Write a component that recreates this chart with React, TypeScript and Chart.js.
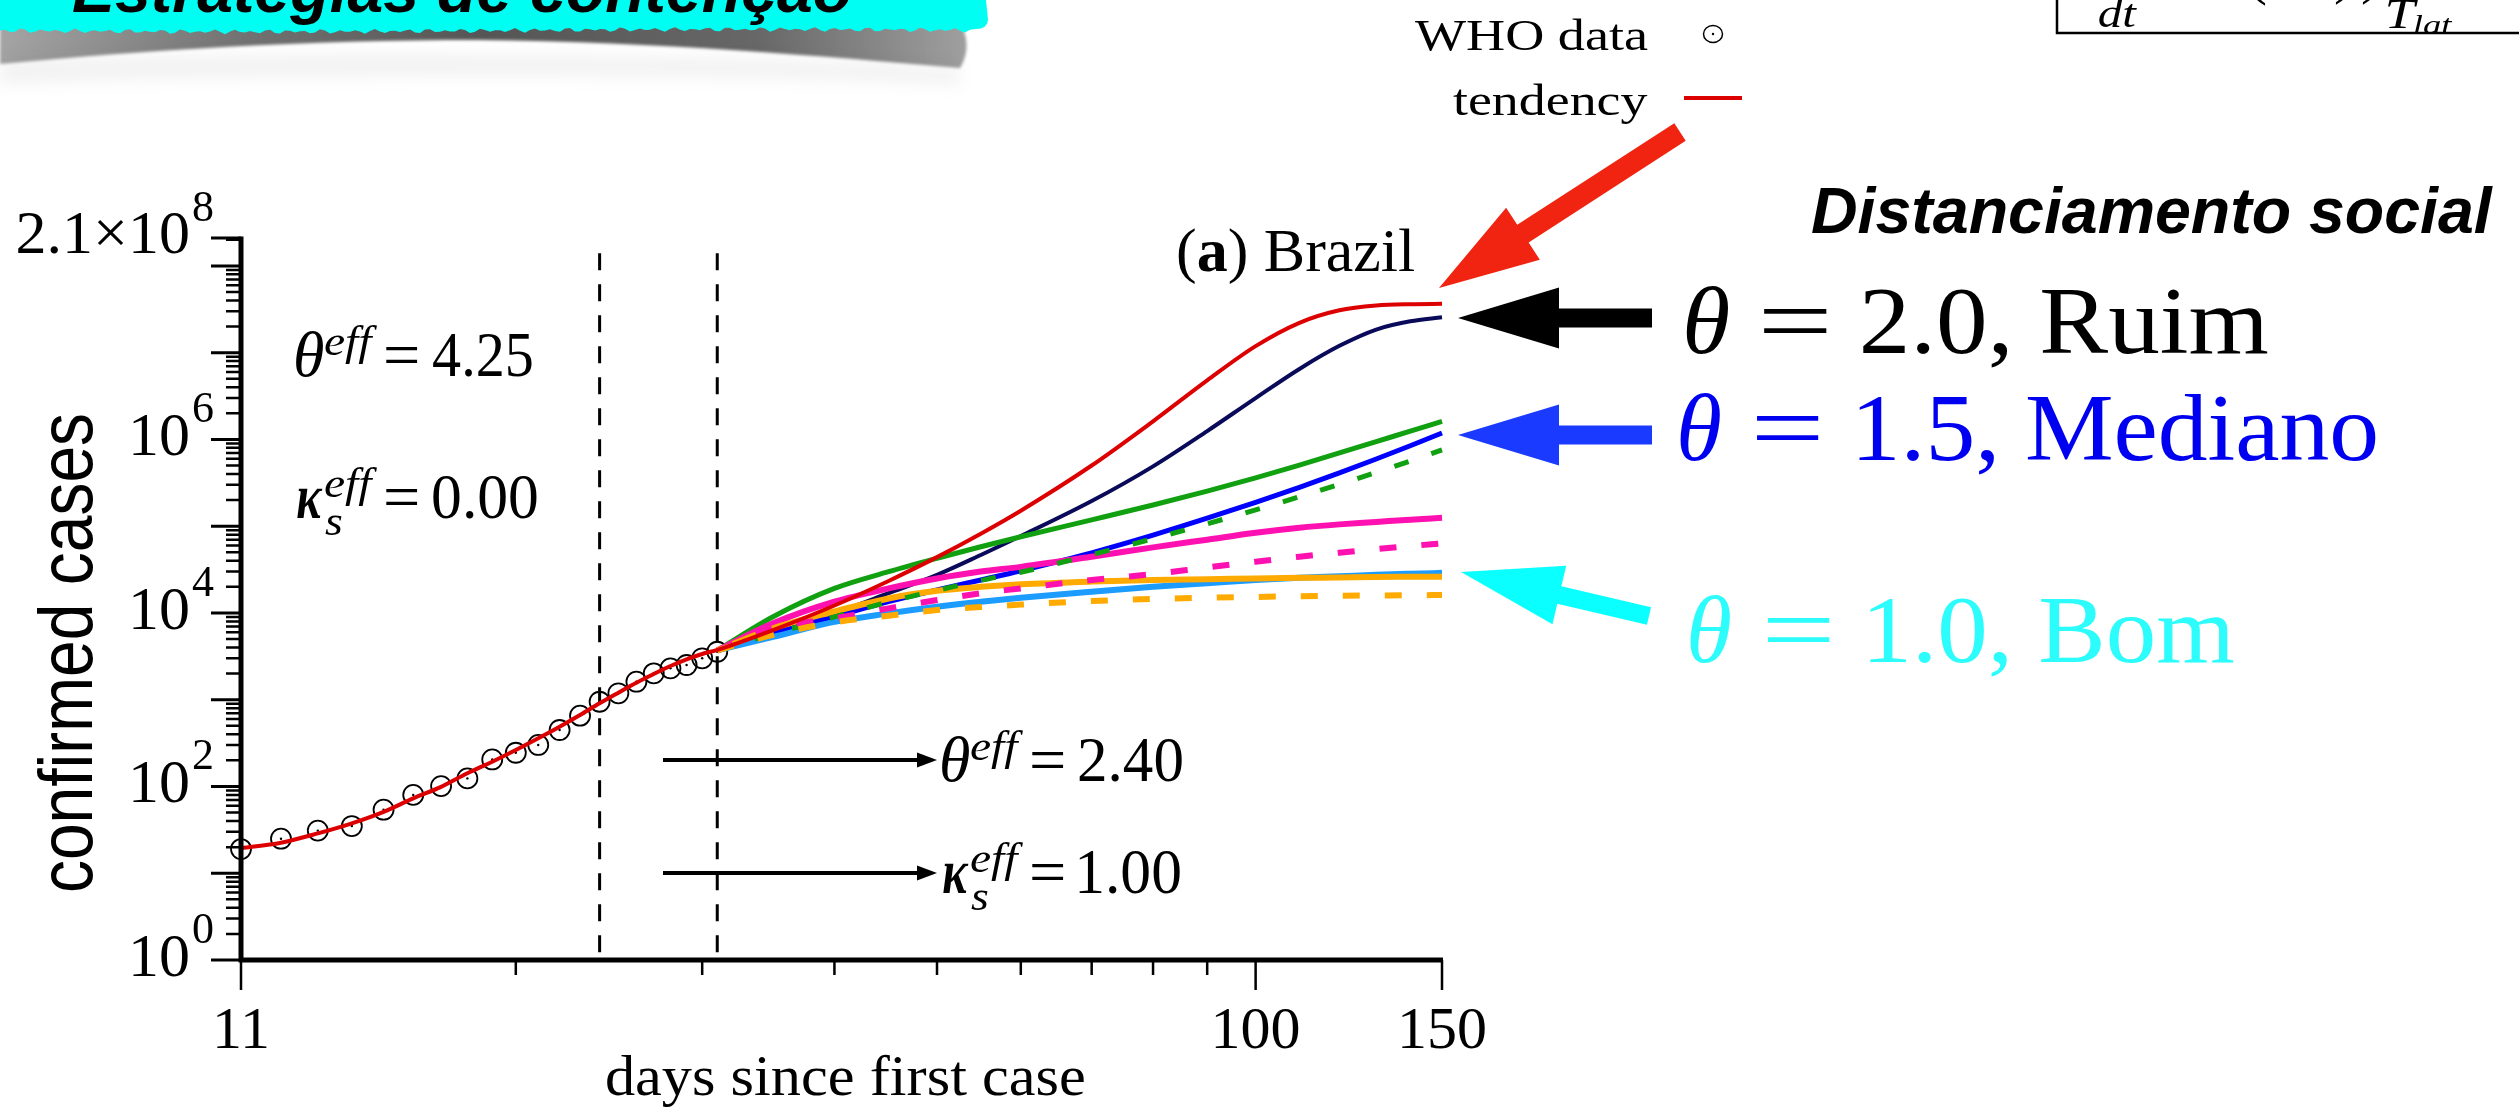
import React, { useEffect, useRef } from "react";
import { Chart, registerables } from "chart.js";

Chart.register(...registerables);

const W = 2519;
const H = 1109;
const SERIF = '"Liberation Serif", "Times New Roman", serif';
const SANS = '"Liberation Sans", Arial, sans-serif';

// ---------- data ----------
const whoDays = [11, 12, 13, 14, 15, 16, 17, 18, 19, 20, 21, 22, 23, 24, 25, 26, 27, 28, 29, 30, 31];
const whoCases = [19, 25, 31, 35, 54, 80, 101, 124, 205, 245, 301, 448, 655, 948, 1186, 1614, 2016, 2301, 2513, 3003, 3573];

const tendencyDays = [11, 12, 13, 14, 15, 16, 17, 18, 19, 20, 21, 22, 23, 24, 25, 26, 27, 28, 29, 30, 31, 35, 40, 45, 50, 55, 60, 70, 80, 90, 100, 110, 120, 130, 140, 150];
const tendencyCases = [19.4, 22.5, 28.8, 37.6, 51, 73, 99, 142, 193, 263, 359, 489, 666, 909, 1205, 1571, 1979, 2446, 2923, 3365, 3750, 6350, 12200, 23400, 44000, 82000, 151000, 501000, 1620000, 4800000, 11900000, 22100000, 30800000, 35000000, 36300000, 36600000];

const scenarioDays = [31, 35, 40, 45, 50, 55, 60, 70, 80, 90, 100, 110, 120, 130, 140, 150];
const navyCases = [3700, 5800, 9900, 16900, 27500, 46600, 77000, 195000, 490000, 1250000, 3000000, 6500000, 12000000, 18500000, 23000000, 25600000];
const greenCases = [3700, 9060, 19200, 29900, 42700, 58000, 75700, 118300, 175400, 254100, 361400, 507000, 699800, 944100, 1247000, 1614000];
const blueCases = [3700, 5800, 9060, 13500, 18400, 24000, 30700, 49400, 78900, 123600, 188400, 281200, 412100, 595700, 847200, 1189000];
const greenDashCases = [3700, 5750, 9000, 13400, 18200, 23700, 29500, 46900, 71800, 106600, 154200, 218300, 304100, 416900, 564900, 758600];
const magentaCases = [3700, 7600, 13500, 19200, 25000, 30000, 34000, 44500, 57000, 70000, 84000, 96000, 105000, 112000, 119000, 125000];
const magentaDashCases = [3700, 6650, 8650, 11300, 14100, 16900, 19200, 24000, 28100, 33500, 39000, 44500, 49500, 54500, 59000, 63500];
const lightBlueCases = [3700, 5300, 7900, 9900, 11800, 13500, 15000, 17600, 20000, 22000, 24000, 25500, 26500, 27500, 28300, 29000];
const orangeCases = [3700, 6650, 10400, 14700, 18000, 20000, 21400, 23000, 24000, 24500, 25000, 25400, 25700, 26000, 26100, 26200];
const orangeDashCases = [3700, 5600, 7800, 9300, 10800, 11700, 12500, 13700, 14500, 15000, 15300, 15600, 15800, 15900, 16000, 16100];

// ---------- axes ----------
const xMin = 11;
const xMax = 150;
const yMin = 1;
const yMax = 2.1e8;
const xMajorTicks = [11, 100, 150];
const xTickLabels = ["11", "100", "150"];
const xMinorTicks = [20, 30, 40, 50, 60, 70, 80, 90];
const yDecadeTicks = [1, 10, 100, 1e3, 1e4, 1e5, 1e6, 1e7, 1e8];
const yLabelExponents = [0, 2, 4, 6];
const phaseDays = [24, 31];
const phaseTop = 1.4e8;

// ---------- text helpers ----------
function inkText(ctx: any, s: string, font: string, color: string, left: number, right: number, baseline: number, sy?: number) {
  ctx.save();
  ctx.font = font;
  ctx.fillStyle = color;
  ctx.textAlign = "left";
  ctx.textBaseline = "alphabetic";
  const m = ctx.measureText(s);
  const inkW = m.actualBoundingBoxRight + m.actualBoundingBoxLeft;
  const sx = (right - left) / inkW;
  ctx.translate(left, baseline);
  ctx.scale(sx, sy || 1);
  ctx.fillText(s, m.actualBoundingBoxLeft, 0);
  ctx.restore();
}

function plainText(ctx: any, s: string, font: string, color: string, x: number, y: number, align: string) {
  ctx.save();
  ctx.font = font;
  ctx.fillStyle = color;
  ctx.textAlign = align;
  ctx.textBaseline = "alphabetic";
  ctx.fillText(s, x, y);
  ctx.restore();
}

function blockArrow(ctx: any, tx: number, ty: number, hx: number, hy: number, shaftW: number, headL: number, headW: number, color: string) {
  const dx = hx - tx;
  const dy = hy - ty;
  const L = Math.hypot(dx, dy);
  const ux = dx / L;
  const uy = dy / L;
  const px = -uy;
  const py = ux;
  const bx = hx - ux * headL;
  const by = hy - uy * headL;
  ctx.save();
  ctx.fillStyle = color;
  ctx.beginPath();
  ctx.moveTo(tx + (px * shaftW) / 2, ty + (py * shaftW) / 2);
  ctx.lineTo(bx + (px * shaftW) / 2, by + (py * shaftW) / 2);
  ctx.lineTo(bx + (px * headW) / 2, by + (py * headW) / 2);
  ctx.lineTo(hx, hy);
  ctx.lineTo(bx - (px * headW) / 2, by - (py * headW) / 2);
  ctx.lineTo(bx - (px * shaftW) / 2, by - (py * shaftW) / 2);
  ctx.lineTo(tx - (px * shaftW) / 2, ty - (py * shaftW) / 2);
  ctx.closePath();
  ctx.fill();
  ctx.restore();
}

function thinArrow(ctx: any, x0: number, x1: number, y: number) {
  ctx.save();
  ctx.strokeStyle = "#000";
  ctx.fillStyle = "#000";
  ctx.lineWidth = 4;
  ctx.beginPath();
  ctx.moveTo(x0, y);
  ctx.lineTo(x1 - 16, y);
  ctx.stroke();
  ctx.beginPath();
  ctx.moveTo(x1, y);
  ctx.lineTo(x1 - 20, y - 7.5);
  ctx.lineTo(x1 - 20, y + 7.5);
  ctx.closePath();
  ctx.fill();
  ctx.restore();
}

function effLabel(ctx: any, kind: string, x0: number, b: number, value: string, valueW: number) {
  const big = `64px ${SERIF}`;
  const small = `italic 43px ${SERIF}`;
  if (kind === "theta") {
    inkText(ctx, "θ", `italic ${big}`, "#000", x0, x0 + 27, b);
  } else {
    inkText(ctx, "κ", `bold italic ${big}`, "#000", x0 + 1, x0 + 27, b);
    inkText(ctx, "s", small, "#000", x0 + 29, x0 + 46, b + 17);
  }
  inkText(ctx, "eff", small, "#000", x0 + 29, x0 + 81, b - 21);
  inkText(ctx, "=", big, "#000", x0 + 90, x0 + 121, b);
  inkText(ctx, value, big, "#000", x0 + 137, x0 + 137 + valueW, b);
}

function thetaLine(ctx: any, color: string, th: number[], eq: number[], rest: number[], b: number, s: string) {
  const f = `96px ${SERIF}`;
  inkText(ctx, "θ", `italic ${f}`, color, th[0], th[1], b);
  inkText(ctx, "=", f, color, eq[0], eq[1], b);
  inkText(ctx, s, f, color, rest[0], rest[1], b);
}

function drawBanner(ctx: any) {
  ctx.save();
  const g = ctx.createLinearGradient(0, 0, 970, 0);
  g.addColorStop(0, "#a4a4a4");
  g.addColorStop(0.25, "#727272");
  g.addColorStop(0.5, "#555555");
  g.addColorStop(0.78, "#676767");
  g.addColorStop(1, "#a0a0a0");
  ctx.filter = "blur(1.5px)";
  ctx.fillStyle = g;
  ctx.beginPath();
  ctx.moveTo(0, 26);
  ctx.lineTo(962, 26);
  ctx.quadraticCurveTo(972, 48, 960, 68);
  ctx.bezierCurveTo(820, 56, 660, 42, 480, 40);
  ctx.bezierCurveTo(300, 40, 150, 50, 0, 64);
  ctx.closePath();
  ctx.fill();
  ctx.restore();
  ctx.save();
  ctx.filter = "blur(8px)";
  ctx.fillStyle = "rgba(0,0,0,0.05)";
  ctx.beginPath();
  ctx.moveTo(0, 60);
  ctx.bezierCurveTo(200, 52, 700, 50, 960, 68);
  ctx.lineTo(960, 85);
  ctx.bezierCurveTo(700, 72, 200, 74, 0, 85);
  ctx.closePath();
  ctx.fill();
  ctx.restore();
  ctx.save();
  ctx.fillStyle = "#00fff2";
  ctx.beginPath();
  ctx.moveTo(0, 0);
  ctx.lineTo(986, 0);
  ctx.lineTo(988, 20);
  ctx.quadraticCurveTo(987, 29, 976, 29);
  for (let x = 970; x >= 0; x -= 5) {
    const yy = 30.5 + 1.6 * Math.sin(x * 0.9) + 0.9 * Math.sin(x * 0.23) + 1.2 * Math.sin(x / 160);
    ctx.lineTo(x, yy);
  }
  ctx.closePath();
  ctx.fill();
  ctx.restore();
  inkText(ctx, "Estratégias de contenção", `italic bold 64px ${SANS}`, "#000", 73, 851, 12);
}

const decorPlugin = {
  id: "decor",
  beforeDraw(chart: any) {
    const ctx = chart.ctx;
    ctx.save();
    ctx.fillStyle = "#fff";
    ctx.fillRect(0, 0, W, H);
    ctx.restore();
    drawBanner(ctx);
  },
  beforeDatasetsDraw(chart: any) {
    const ctx = chart.ctx;
    const xs = chart.scales.x;
    const ys = chart.scales.y;
    ctx.save();
    ctx.strokeStyle = "#000";
    ctx.lineWidth = 3;
    ctx.setLineDash([17, 14]);
    phaseDays.forEach((d) => {
      const px = xs.getPixelForValue(d);
      ctx.beginPath();
      ctx.moveTo(px, ys.getPixelForValue(phaseTop));
      ctx.lineTo(px, ys.getPixelForValue(yMin));
      ctx.stroke();
    });
    ctx.restore();
  },
  afterDatasetsDraw(chart: any) {
    const ctx = chart.ctx;
    const xs = chart.scales.x;
    const ys = chart.scales.y;
    const x0 = xs.getPixelForValue(xMin);
    const x1 = xs.getPixelForValue(xMax);
    const y0 = ys.getPixelForValue(yMin);
    const yT = ys.getPixelForValue(yMax);

    ctx.save();
    ctx.strokeStyle = "#000";
    ctx.lineCap = "butt";
    ctx.lineWidth = 5;
    ctx.beginPath();
    ctx.moveTo(x0, yT - 1.5);
    ctx.lineTo(x0, y0 + 2.5);
    ctx.moveTo(x0 - 2.5, y0);
    ctx.lineTo(x1 + 1, y0);
    ctx.stroke();
    ctx.lineWidth = 3;
    ctx.beginPath();
    [...yDecadeTicks, yMax].forEach((v) => {
      const py = ys.getPixelForValue(v);
      ctx.moveTo(x0 - 30, py);
      ctx.lineTo(x0, py);
    });
    ctx.stroke();
    ctx.lineWidth = 2.5;
    ctx.beginPath();
    yDecadeTicks.forEach((d) => {
      for (let m = 2; m <= 9; m++) {
        const v = m * d;
        if (v > yMax) continue;
        const py = ys.getPixelForValue(v);
        ctx.moveTo(x0 - 15, py);
        ctx.lineTo(x0, py);
      }
    });
    ctx.stroke();
    ctx.lineWidth = 2.5;
    ctx.beginPath();
    xMajorTicks.forEach((v) => {
      const px = xs.getPixelForValue(v);
      ctx.moveTo(px, y0);
      ctx.lineTo(px, y0 + 30);
    });
    xMinorTicks.forEach((v) => {
      const px = xs.getPixelForValue(v);
      ctx.moveTo(px, y0);
      ctx.lineTo(px, y0 + 15);
    });
    ctx.stroke();
    ctx.restore();

    // y tick labels
    yLabelExponents.forEach((e) => {
      const py = ys.getPixelForValue(Math.pow(10, e));
      plainText(ctx, "10", `62px ${SERIF}`, "#000", 190, py + 16, "right");
      plainText(ctx, String(e), `44px ${SERIF}`, "#000", 192, py - 17, "left");
    });
    plainText(ctx, "2.1×10", `62px ${SERIF}`, "#000", 190, yT + 15, "right");
    plainText(ctx, "8", `44px ${SERIF}`, "#000", 192, yT - 17, "left");

    // x tick labels
    xMajorTicks.forEach((v, i) => {
      plainText(ctx, xTickLabels[i], `60px ${SERIF}`, "#000", xs.getPixelForValue(v), 1048, "center");
    });

    // axis titles
    inkText(ctx, "days since first case", `58px ${SERIF}`, "#000", 607, 1084, 1095);
    ctx.save();
    ctx.translate(92, 653);
    ctx.rotate(-Math.PI / 2);
    inkText(ctx, "confirmed cases", `64px ${SANS}`, "#000", -238, 238, 0, 1.2);
    ctx.restore();

    // panel label
    let cx = 1176;
    const runs = [
      ["(", `62px ${SERIF}`],
      ["a", `bold 62px ${SERIF}`],
      [")", `62px ${SERIF}`],
      [" Brazil", `62px ${SERIF}`],
    ];
    runs.forEach(([t, f]) => {
      ctx.save();
      ctx.font = f;
      ctx.fillStyle = "#000";
      ctx.textAlign = "left";
      ctx.fillText(t, cx, 271);
      cx += ctx.measureText(t).width;
      ctx.restore();
    });

    // parameter annotations
    effLabel(ctx, "theta", 296, 376, "4.25", 99);
    effLabel(ctx, "kappa", 296, 518, "0.00", 104);
    thinArrow(ctx, 663, 937, 760);
    thinArrow(ctx, 663, 937, 873);
    effLabel(ctx, "theta", 942, 781, "2.40", 103);
    effLabel(ctx, "kappa", 942, 893, "1.00", 101);

    // legend
    inkText(ctx, "WHO data", `45px ${SERIF}`, "#000", 1415, 1648, 50);
    inkText(ctx, "tendency", `45px ${SERIF}`, "#000", 1453, 1648, 115);
    ctx.save();
    ctx.strokeStyle = "#000";
    ctx.lineWidth = 1.5;
    ctx.beginPath();
    ctx.ellipse(1713, 34, 9.5, 8.5, 0, 0, Math.PI * 2);
    ctx.stroke();
    ctx.fillStyle = "#000";
    ctx.beginPath();
    ctx.arc(1713, 34, 1.2, 0, Math.PI * 2);
    ctx.fill();
    ctx.strokeStyle = "#dd0000";
    ctx.lineWidth = 4;
    ctx.beginPath();
    ctx.moveTo(1684, 98);
    ctx.lineTo(1742, 98);
    ctx.stroke();
    ctx.restore();

    // formula box (cut off at the top)
    ctx.save();
    ctx.strokeStyle = "#000";
    ctx.lineWidth = 2.5;
    ctx.beginPath();
    ctx.moveTo(2057, 0);
    ctx.lineTo(2057, 33);
    ctx.lineTo(W, 33);
    ctx.stroke();
    ctx.restore();
    inkText(ctx, "dt", `italic 40px ${SERIF}`, "#000", 2099, 2137, 27);
    inkText(ctx, "T", `italic 42px ${SERIF}`, "#000", 2387, 2418, 28);
    inkText(ctx, "lat", `italic 28px ${SERIF}`, "#000", 2414, 2453, 34);
    plainText(ctx, "(", `60px ${SERIF}`, "#000", 2247, -7, "left");
    plainText(ctx, ")", `60px ${SERIF}`, "#000", 2334, -8, "left");
    plainText(ctx, ")", `60px ${SERIF}`, "#000", 2361, -8, "left");

    // subtitle
    inkText(ctx, "Distanciamento social", `italic bold 64px ${SANS}`, "#000", 1812, 2493, 233);

    // big arrows
    blockArrow(ctx, 1680, 132, 1439, 288, 21, 100, 62, "#f02410");
    blockArrow(ctx, 1652, 318, 1458, 318, 19, 101, 61, "#000000");
    blockArrow(ctx, 1652, 435, 1458, 435, 19, 101, 61, "#1a3aff");
    blockArrow(ctx, 1649, 616, 1461, 572, 18, 101, 60, "#0affff");

    // scenario labels
    thetaLine(ctx, "#000000", [1686, 1728], [1763, 1827], [1863, 2268], 353, "2.0, Ruim");
    thetaLine(ctx, "#0000f0", [1680, 1720], [1756, 1819], [1859, 2376], 460, "1.5, Mediano");
    thetaLine(ctx, "#2cfcfc", [1690, 1730], [1767, 1830], [1870, 2234], 662, "1.0, Bom");
  },
};

function series(days: number[], vals: number[]) {
  return days.map((d, i) => ({ x: d, y: vals[i] }));
}

function curve(label: string, days: number[], vals: number[], color: string, width: number, order: number, dash?: number[]) {
  return {
    label,
    data: series(days, vals),
    borderColor: color,
    backgroundColor: color,
    borderWidth: width,
    borderDash: dash || [],
    pointRadius: 0,
    cubicInterpolationMode: "monotone",
    fill: false,
    order,
    clip: false,
  };
}

export default function App() {
  const ref = useRef<HTMLCanvasElement>(null);
  useEffect(() => {
    const canvas = ref.current as HTMLCanvasElement;
    const chart = new Chart(canvas, {
      type: "line",
      data: {
        datasets: [
          curve("tendency", tendencyDays, tendencyCases, "#dd0000", 4, 0),
          curve("orange dashed", scenarioDays, orangeDashCases, "#ffaa00", 6, 1, [17, 25]),
          curve("magenta dashed", scenarioDays, magentaDashCases, "#ff10b0", 6, 2, [17, 25]),
          curve("green dashed", scenarioDays, greenDashCases, "#10a010", 5, 3, [15, 24]),
          curve("orange", scenarioDays, orangeCases, "#ffaa00", 6, 4),
          curve("light blue", scenarioDays, lightBlueCases, "#1c9cff", 6, 5),
          curve("magenta", scenarioDays, magentaCases, "#ff10b0", 6, 6),
          curve("blue", scenarioDays, blueCases, "#0000ff", 5, 7),
          curve("green", scenarioDays, greenCases, "#10a010", 5, 8),
          curve("navy", scenarioDays, navyCases, "#0a0a5a", 4, 9),
          {
            label: "WHO data",
            data: series(whoDays, whoCases),
            showLine: false,
            pointRadius: 10,
            pointBorderWidth: 1.8,
            pointBorderColor: "#000",
            pointBackgroundColor: "rgba(0,0,0,0)",
            order: 10,
            clip: false,
          },
          {
            label: "WHO data centre",
            data: series(whoDays, whoCases),
            showLine: false,
            pointRadius: 1.2,
            pointBorderWidth: 0,
            pointBackgroundColor: "#000",
            order: 11,
            clip: false,
          },
        ] as any,
      },
      options: {
        responsive: false,
        animation: false,
        devicePixelRatio: 1,
        layout: { padding: { left: 241, top: 238, right: W - 1442, bottom: H - 960 } },
        plugins: { legend: { display: false }, tooltip: { enabled: false } },
        scales: {
          x: { type: "logarithmic", min: xMin, max: xMax, display: false },
          y: { type: "logarithmic", min: yMin, max: yMax, display: false },
        },
      } as any,
      plugins: [decorPlugin],
    });
    return () => chart.destroy();
  }, []);
  return (
    <div style={{ position: "fixed", left: 0, top: 0, width: W, height: H, background: "#fff" }}>
      <canvas ref={ref} width={W} height={H} style={{ display: "block" }} />
    </div>
  );
}
